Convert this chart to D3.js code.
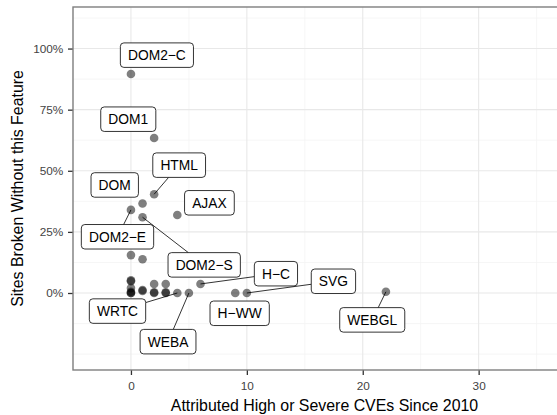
<!DOCTYPE html>
<html>
<head>
<meta charset="utf-8">
<script src="https://cdn.jsdelivr.net/npm/d3@7"></script>
<style>
  body { margin: 0; background: #fff; }
  svg { display: block; font-family: "Liberation Sans", Arial, sans-serif; }
</style>
</head>
<body>
<svg id="chart" width="557" height="415"></svg>
<script>
// labelled features
var features = ["DOM2\u2212C", "DOM1", "HTML", "DOM", "AJAX", "DOM2\u2212E", "DOM2\u2212S",
                "WRTC", "WEBA", "H\u2212WW", "H\u2212C", "SVG", "WEBGL"];
var featureCves   = [0, 2, 2, 1, 4, 0, 1, 4, 5, 9, 6, 10, 22];
var featureBroken = [0.896, 0.634, 0.404, 0.366, 0.319, 0.34, 0.31, 0.0, 0.0, 0.0, 0.037, 0.0, 0.005];

// where the repel step put each label (centre, data units)
var labelCves   = [2.24, -0.23, 4.16, -1.40, 6.77, -1.16, 6.32, -1.16, 3.20, 9.38, 12.51, 17.47, 20.82];
var labelBroken = [0.973, 0.711, 0.523, 0.442, 0.369, 0.230, 0.115, -0.074, -0.199, -0.083, 0.079, 0.048, -0.110];

// unlabelled features
var otherCves   = [0, 1, 0, 0, 0, 0, 0, 0, 1, 1, 2, 2, 2, 3, 3, 3];
var otherBroken = [0.155, 0.138, 0.052, 0.048, 0.02, 0.005, 0, 0, 0.012, 0.008, 0.037, 0.003, 0, 0.037, 0.003, 0];

var xMajor = [0, 10, 20, 30];
var xMinor = [-5, 5, 15, 25, 35];
var yMajor = [0, 0.25, 0.5, 0.75, 1];
var yMinor = [-0.25, -0.125, 0.125, 0.375, 0.625, 0.875, 1.125];

var svg = d3.select("#chart");

// panel (runs off the right side of the window, like the original)
var pL = 73, pR = 576, pT = 7, pB = 370;

var x = d3.scaleLinear().domain([-5, 38.4]).range([pL, pR]);
var y = d3.scaleLinear().domain([-0.315, 1.17]).range([pB, pT]);

var grid = svg.append("g");
grid.selectAll(".xmin").data(xMinor).join("line")
	.attr("x1", d => x(d)).attr("x2", d => x(d)).attr("y1", pT).attr("y2", pB)
	.attr("stroke", "#f4f4f4").attr("stroke-width", 0.8);
grid.selectAll(".ymin").data(yMinor).join("line")
	.attr("y1", d => y(d)).attr("y2", d => y(d)).attr("x1", pL).attr("x2", pR)
	.attr("stroke", "#f4f4f4").attr("stroke-width", 0.8);
grid.selectAll(".xmaj").data(xMajor).join("line")
	.attr("x1", d => x(d)).attr("x2", d => x(d)).attr("y1", pT).attr("y2", pB)
	.attr("stroke", "#e8e8e8").attr("stroke-width", 1.1);
grid.selectAll(".ymaj").data(yMajor).join("line")
	.attr("y1", d => y(d)).attr("y2", d => y(d)).attr("x1", pL).attr("x2", pR)
	.attr("stroke", "#e8e8e8").attr("stroke-width", 1.1);

// axes
var xAxis = svg.append("g").attr("transform", "translate(0," + pB + ")")
	.call(d3.axisBottom(x).tickValues(xMajor).tickSize(5).tickPadding(6.5));
var yAxis = svg.append("g").attr("transform", "translate(" + pL + ",0)")
	.call(d3.axisLeft(y).tickValues(yMajor).tickFormat(d3.format(".0%")).tickSize(5).tickPadding(4.7));
[xAxis, yAxis].forEach(a => {
	a.select(".domain").remove();
	a.selectAll(".tick line").attr("stroke", "#333").attr("stroke-width", 1.3);
	a.selectAll(".tick text").attr("fill", "#444").style("font-size", "11.8px")
		.style("font-family", "'Liberation Sans', Arial, sans-serif");
});

// border
svg.append("rect").attr("x", pL).attr("y", pT).attr("width", pR - pL).attr("height", pB - pT)
	.attr("fill", "none").attr("stroke", "#7f7f7f").attr("stroke-width", 1.4);

// points
var pts = svg.append("g");
pts.selectAll(".o").data(otherCves).join("circle")
	.attr("cx", d => x(d)).attr("cy", (d, i) => y(otherBroken[i])).attr("r", 4.3)
	.attr("fill", "#000").attr("fill-opacity", 0.5);
pts.selectAll(".f").data(featureCves).join("circle")
	.attr("cx", d => x(d)).attr("cy", (d, i) => y(featureBroken[i])).attr("r", 4.3)
	.attr("fill", "#000").attr("fill-opacity", 0.5);

// labels
var lab = svg.append("g");
var boxH = 24.5, padX = 7.6;
features.forEach(function(name, i) {
	var cx = x(labelCves[i]), cy = y(labelBroken[i]);
	var px = x(featureCves[i]), py = y(featureBroken[i]);
	var g = lab.append("g");
	var t = g.append("text").text(name).attr("x", cx).attr("y", cy).attr("dy", "0.37em")
		.attr("text-anchor", "middle").style("font-size", "13.8px").attr("fill", "#000");
	var w = t.node().getComputedTextLength() + 2 * padX;
	// segment point -> box edge
	var dx = cx - px, dy = cy - py;
	var s = Math.min(dx !== 0 ? Math.abs((w / 2) / dx) : Infinity, dy !== 0 ? Math.abs((boxH / 2) / dy) : Infinity);
	var ex = cx - dx * s, ey = cy - dy * s;
	var len = Math.hypot(ex - px, ey - py);
	if (s < 1 && len > 12) {
		g.insert("line", "text").attr("x1", px).attr("y1", py).attr("x2", ex).attr("y2", ey)
			.attr("stroke", "#000").attr("stroke-width", 0.8);
	}
	g.insert("rect", "text").attr("x", cx - w / 2).attr("y", cy - boxH / 2)
		.attr("width", w).attr("height", boxH).attr("rx", 3.5)
		.attr("fill", "#fff").attr("stroke", "#000").attr("stroke-width", 0.8);
});

// axis titles
svg.append("text").attr("x", (pL + pR) / 2).attr("y", 411).attr("text-anchor", "middle")
	.style("font-size", "15.9px").attr("fill", "#000").text("Attributed High or Severe CVEs Since 2010");
svg.append("text").attr("transform", "translate(23.3," + ((pT + pB) / 2) + ") rotate(-90)")
	.attr("text-anchor", "middle").style("font-size", "15.9px").attr("fill", "#000")
	.text("Sites Broken Without this Feature");
</script>
</body>
</html>
